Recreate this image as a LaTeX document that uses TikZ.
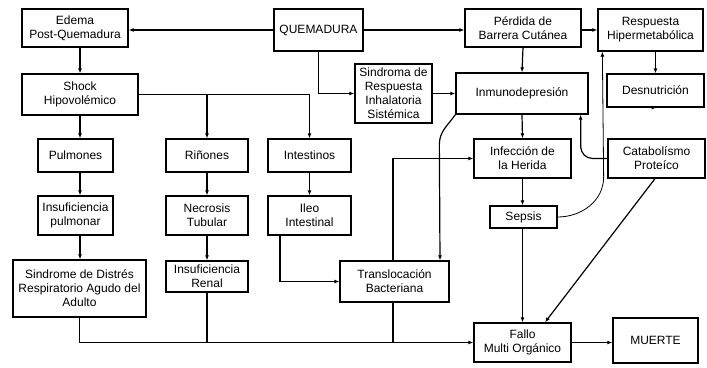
\documentclass[tikz,border=0pt]{standalone}
\usepackage{fontspec}
\setmainfont{Liberation Sans}
\usetikzlibrary{arrows.meta}
\tikzset{
  caja/.style={draw, line width=1.3pt, align=center, inner sep=1pt, font=\fontsize{12}{14}\selectfont},
  linea/.style={line width=1.2pt},
  flecha/.style={linea, -{Latex[length=5pt,width=4pt]}}
}

\begin{document}
\begin{tikzpicture}[x=1pt, y=-1pt]
  \useasboundingbox (0,0) rectangle (707,367);

  % fila de arriba
  \node[caja, minimum width=89pt, minimum height=42pt] (quem) at (318.5,30) {QUEMADURA};
  \node[caja, minimum width=106pt, minimum height=38pt] (edema) at (75,28) {Edema\\Post-Quemadura};
  \node[caja, minimum width=116pt, minimum height=38pt] (perdida) at (523,28) {Pérdida de\\Barrera Cutánea};
  \node[caja, minimum width=105pt, minimum height=42pt] (hiper) at (650.5,30) {Respuesta\\Hipermetabólica};

  \node[caja, minimum width=116pt, minimum height=41pt] (shock) at (80,94.5) {Shock\\Hipovolémico};
  \node[caja, minimum width=77pt, minimum height=59pt] (sirs) at (393.5,93.5) {Sindroma de\\Respuesta\\Inhalatoria\\Sistémica};
  \node[caja, minimum width=132pt, minimum height=41pt] (inmuno) at (522,93.5) {Inmunodepresión};
  \node[caja, minimum width=97pt, minimum height=33pt] (desnut) at (655.5,90.5) {Desnutrición};

  % organos
  \node[caja, minimum width=75pt, minimum height=33pt] (pulm) at (75.5,155.5) {Pulmones};
  \node[caja, minimum width=82pt, minimum height=33pt] (rinon) at (207,155.5) {Riñones};
  \node[caja, minimum width=83pt, minimum height=33pt] (intest) at (309.5,155.5) {Intestinos};
  \node[caja, minimum width=75pt, minimum height=39pt] (inspulm) at (75.5,215.5) {Insuficiencia\\pulmonar};
  \node[caja, minimum width=82pt, minimum height=39pt] (necro) at (207,215.5) {Necrosis\\Tubular};
  \node[caja, minimum width=83pt, minimum height=39pt] (ileo) at (309.5,215.5) {Ileo\\Intestinal};

  \node[caja, minimum width=97pt, minimum height=39pt] (infec) at (522.5,158.5) {Infección de\\la Herida};
  \node[caja, minimum width=97pt, minimum height=39pt] (catab) at (656.5,158.5) {Catabolísmo\\Proteíco};
  \node[caja, minimum width=67pt, minimum height=22pt] (sepsis) at (523.5,217) {Sepsis};

  % fila de abajo
  \node[caja, minimum width=133pt, minimum height=57pt] (sdra) at (79.5,288.5) {Sindrome de Distrés\\Respiratorio Agudo del\\Adulto};
  \node[caja, minimum width=82pt, minimum height=31pt] (insren) at (207,276.5) {Insuficiencia\\Renal};
  \node[caja, minimum width=109pt, minimum height=41pt] (transl) at (394.5,281.5) {Translocación\\Bacteriana};
  \node[caja, minimum width=97pt, minimum height=39pt] (fallo) at (522.5,342.5) {Fallo\\Multi Orgánico};
  \node[caja, minimum width=85pt, minimum height=45pt] (muerte) at (655.5,340.5) {MUERTE};

  \draw[flecha] (quem.west) -- (quem.west -| edema.east);
  \draw[flecha] (quem.east) -- (quem.east -| perdida.west);
  \draw[flecha] (perdida.east |- quem.east) -- (perdida.east |- quem.east -| hiper.west);
  \draw[flecha] (shock.north |- edema.south) -- (shock.north);
  \draw[flecha] (quem.south) |- (sirs.west);
  \draw[flecha] (sirs.east) -- (sirs.east -| inmuno.west);
  \draw[flecha] (perdida.south) -- (inmuno.north);
  \draw[flecha] (desnut.north |- hiper.south) -- (desnut.north);
  \draw[flecha] (desnut.south) -- (desnut.south -| catab.north);

  % shock a los organos
  \draw[flecha] (shock.south) -- (shock.south |- pulm.north);
  \draw[flecha] (shock.east) -| (intest.north);
  \draw[flecha] (shock.east -| rinon.north) -- (rinon.north);
  \draw[flecha] (pulm.south -| shock.south) -- (inspulm.north -| shock.south);
  \draw[flecha] (inspulm.south -| shock.south) -- (sdra.north -| shock.south);
  \draw[flecha] (rinon.south) -- (necro.north);
  \draw[flecha] (necro.south) -- (insren.north);
  \draw[flecha] (intest.south) -- (ileo.north);
  \draw[flecha] ([xshift=-29.5pt]ileo.south) |- (transl.west);

  % infeccion
  \draw[flecha] (inmuno.south) -- (infec.north);
  \draw[flecha] (infec.south) -- (sepsis.north -| infec.south);
  \draw[flecha] (sepsis.south -| infec.south) -- (fallo.north);
  \draw[flecha] ([xshift=-1.5pt]transl.north) |- (infec.west);
  \draw[flecha] (inmuno.south west) to[out=235,in=90] ++(-16,30) -- ([xshift=45.5pt]transl.north);
  \draw[flecha, rounded corners=12pt] (catab.west) -| ([xshift=-8pt]inmuno.south east);
  \draw[flecha, line width=0.8pt] (sepsis.east) to[out=0,in=-90] ++(46,-40) -- ([xshift=5pt]hiper.south west);
  \draw[flecha] ([xshift=-1.5pt]catab.south) -- ([xshift=22.5pt]fallo.north);

  % al fallo multiorganico
  \draw[flecha] (sdra.south) |- (fallo.west);
  \draw[linea] (insren.south) -- (insren.south |- fallo.west);
  \draw[linea] ([xshift=-1.5pt]transl.south) -- ([xshift=-1.5pt]transl.south |- fallo.west);
  \draw[flecha] (fallo.east) -- (fallo.east -| muerte.west);
\end{tikzpicture}
\end{document}
